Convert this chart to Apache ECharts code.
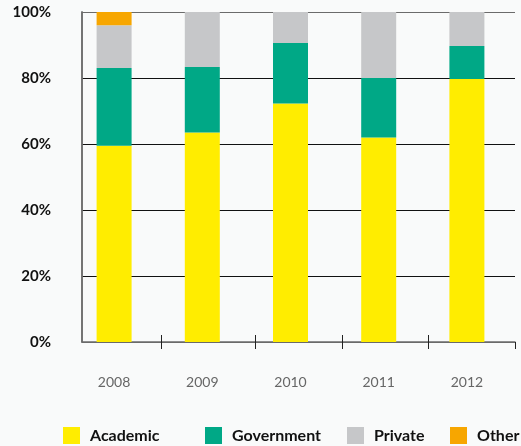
<!DOCTYPE html>
<html>
<head>
<meta charset="utf-8">
<script src="https://cdn.jsdelivr.net/npm/echarts@6/dist/echarts.min.js"></script>
<style>
html,body{margin:0;padding:0;background:#f9fafa;}
#c{width:521px;height:446px;}
</style>
</head>
<body>
<div id="c"></div>
<script>
var years = ['2008', '2009', '2010', '2011', '2012'];
var academic = [59.5, 63.5, 72.3, 62, 79.7];
var government = [23.5, 19.8, 18.3, 18, 10];
var privateSec = [13, 16.7, 9.4, 20, 10.3];
var other = [4, 0, 0, 0, 0];
var yTicks = ['0%', '20%', '40%', '60%', '80%', '100%'];

var colors = {Academic:'#ffed00', Government:'#00a886', Private:'#c6c7c9', Other:'#f7a600'};
var FONT = 'Lato';

var chart = echarts.init(document.getElementById('c'));

function legendAt(name, left) {
  return {
    data: [name], left: left, top: 427, itemWidth: 17, itemHeight: 17, padding: 0,
    icon: 'rect', selectedMode: false,
    textStyle: {fontFamily: FONT, fontSize: 16, fontWeight: 'bold', color: '#111', padding: [0,0,0,5], lineHeight: 17}
  };
}

function bar(name, data) {
  return {
    name: name, type: 'bar', stack: 'all', data: data, barWidth: 35,
    xAxisIndex: 0, yAxisIndex: 0,
    itemStyle: {color: colors[name]}, z: 5
  };
}

chart.setOption({
  backgroundColor: '#f9fafa',
  animation: false,
  legend: [legendAt('Academic', 63), legendAt('Government', 205), legendAt('Private', 347), legendAt('Other', 450)],
  grid: [
    {left: 70, right: 10, top: 12, bottom: 104},
    {left: 82, right: 6, top: 12, bottom: 104}
  ],
  xAxis: [
    {type: 'category', gridIndex: 0, data: years,
     axisLine: {show: false}, axisTick: {show: false},
     axisLabel: {margin: 33, fontFamily: FONT, fontSize: 14, color: '#666'}},
    {type: 'value', gridIndex: 1, min: 0, max: 5, position: 'bottom',
     axisLine: {show: true, lineStyle: {color: '#6b6b6b', width: 1.5}},
     axisTick: {show: true, length: 7, customValues: [0.91, 2, 3, 4, 5], lineStyle: {color: '#222', width: 1}},
     axisLabel: {show: false}, splitLine: {show: false}},
    {type: 'value', gridIndex: 1, min: 0, max: 5, position: 'bottom',
     axisLine: {show: false},
     axisTick: {show: true, inside: true, length: 7, customValues: [0.91, 2, 3, 4], lineStyle: {color: '#222', width: 1}},
     axisLabel: {show: false}, splitLine: {show: false}}
  ],
  yAxis: [
    {type: 'value', gridIndex: 0, min: 0, max: 100, interval: 20, show: false},
    {type: 'value', gridIndex: 1, min: 0, max: 100, interval: 20, position: 'left',
     axisLine: {show: true, lineStyle: {color: '#6b6b6b', width: 1.5}},
     axisTick: {show: false},
     axisLabel: {margin: 31, fontFamily: FONT, fontSize: 15, fontWeight: 'bold', color: '#111',
       formatter: function (v) { return yTicks[Math.round(v / 20)]; }},
     splitLine: {show: true, lineStyle: {color: ['#6b6b6b', '#111', '#111', '#111', '#111', '#6b6b6b'], width: 1}}},
    {type: 'value', gridIndex: 1, min: 0, max: 100, position: 'right',
     axisLine: {show: true, lineStyle: {color: '#6b6b6b', width: 1.5}},
     axisTick: {show: false}, axisLabel: {show: false}, splitLine: {show: false}}
  ],
  series: [
    bar('Academic', academic),
    bar('Government', government),
    bar('Private', privateSec),
    bar('Other', other)
  ]
});
</script>
</body>
</html>
